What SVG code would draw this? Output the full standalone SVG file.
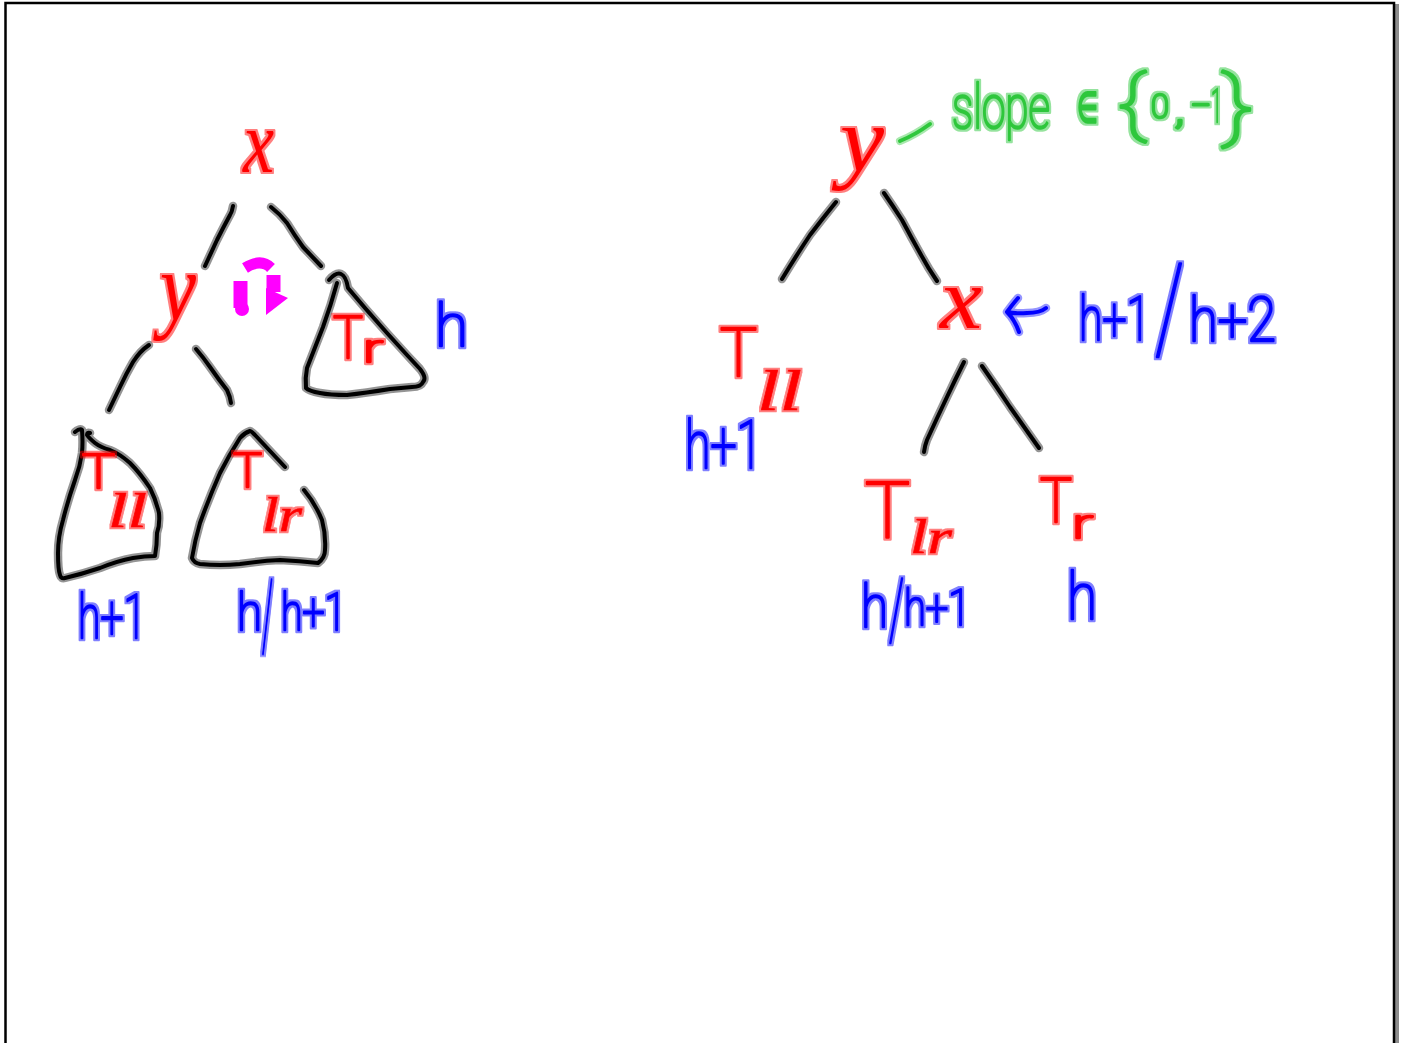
<svg xmlns="http://www.w3.org/2000/svg" width="1403" height="1043" viewBox="0 0 1403 1043">
<style>
.ink{fill:none;stroke-linecap:round;stroke-linejoin:round}
.pen{stroke:#000;stroke-width:4}
.halo{stroke:#000;stroke-opacity:.42;stroke-width:8.5}
text{font-family:Roboto,"Liberation Sans",sans-serif;font-weight:100;paint-order:stroke;stroke-linejoin:round;stroke-linecap:round;stroke-width:2.6}
.var{font-family:"Liberation Serif","Times New Roman",serif;font-style:italic;font-weight:400;stroke-width:0}
.i{font-family:"Liberation Serif","Times New Roman",serif;font-style:italic;font-weight:400;stroke-width:.5}
.red{fill:#f00;stroke:#f00;filter:url(#glow)}
.blue{fill:#00f;stroke:#00f;filter:url(#glow)}
.green{fill:#2fc73c;stroke:#2fc73c;filter:url(#glow)}
.blueline{stroke:#00f;stroke-width:4}
.bluehalo{stroke:#00f;stroke-opacity:.42;stroke-width:8.5}
.greenline{stroke:#2fc73c;stroke-width:4}
.greenhalo{stroke:#2fc73c;stroke-opacity:.42;stroke-width:8}
.rot{fill:none;stroke:#f0f}
</style>
<defs>
<filter id="glow" x="-30%" y="-30%" width="160%" height="160%">
<feMorphology in="SourceGraphic" operator="dilate" radius="1.6" result="d"/>
<feGaussianBlur in="d" stdDeviation=".6" result="b"/>
<feComponentTransfer in="b" result="h"><feFuncA type="linear" slope=".5"/></feComponentTransfer>
<feMerge><feMergeNode in="h"/><feMergeNode in="SourceGraphic"/></feMerge>
</filter>
<path id="e1" d="M233 206Q232 212 230 215Q223 228 217 240L205 266"/>
<path id="e2" d="M271 207Q280 214 287 223Q295 236 303 247L321 266"/>
<path id="e3" d="M149 345Q140 351 133 362Q126 374 120 387L109 410"/>
<path id="e4" d="M196 349Q203 357 210 367Q219 380 227 390Q230 396 231 403"/>
<path id="e5" d="M836 202Q823 218 810 235Q796 256 782 279"/>
<path id="e6" d="M884 193Q893 206 902 220Q911 237 920 253Q928 268 937 281"/>
<path id="e7" d="M964 362Q955 380 947 397Q937 418 927 440Q925 445 924 452"/>
<path id="e8" d="M982 366Q996 386 1010 407L1039 448"/>
<path id="tr" d="M329 280Q336 272 341 274T348 288L365 308L387 333L407 355L420 369Q427 378 423 382Q421 387 412 387L390 389Q365 393 347 395Q330 395 320 393Q309 391 306 388Q305 378 307 368L323 327Q331 305 337 283"/>
<path id="tll" d="M75 432Q80 428 82 430Q83 442 82 453Q80 467 75 480Q68 500 63 520Q58 537 58 553Q58 570 60 575Q61 579 65 578Q82 574 100 568Q117 561 133 558Q145 556 155 556Q157 545 157 533Q160 525 159 513Q156 500 150 488Q140 473 130 463Q120 454 110 450Q100 447 95 443Q89 438 87 435Q87 432 90 433"/>
<path id="tlr" d="M285 467Q270 451 255 435Q251 431 250 431Q244 433 240 438Q229 455 220 473Q209 498 200 523Q195 540 192 558Q194 563 200 564Q220 566 240 564Q260 561 280 560Q300 561 318 563Q325 558 325 550Q326 535 322 520Q315 503 304 490"/>
<path id="ar" d="M1046 308Q1040 313 1027 313Q1016 314 1007 312M1018 298Q1012 305 1007 312Q1015 320 1019 332"/>
<path id="gd" d="M900 141Q915 135 930 124"/>
</defs>
<g id="frame">
<rect x="1395" y="4" width="4" height="1039" fill="#8c8c8c"/>
<path d="M5.5 1043V3H1394V1043" fill="none" stroke="#000" stroke-width="2.5"/>
</g>
<g id="connectors" class="ink">
<g class="halo"><use href="#e1"/><use href="#e2"/><use href="#e3"/><use href="#e4"/><use href="#e5"/><use href="#e6"/><use href="#e7"/><use href="#e8"/></g>
<g class="pen"><use href="#e1"/><use href="#e2"/><use href="#e3"/><use href="#e4"/><use href="#e5"/><use href="#e6"/><use href="#e7"/><use href="#e8"/></g>
<g class="bluehalo"><use href="#ar"/></g><g class="blueline"><use href="#ar"/></g>
<g class="greenhalo"><use href="#gd"/></g><g class="greenline"><use href="#gd"/></g>
</g>
<g id="rotation">
<path class="rot" stroke-width="14" d="M240.500 281V308"/>
<circle cx="242" cy="309" r="7" fill="#f0f"/>
<path class="rot" stroke-width="11" d="M245 268Q261 258 271 268"/>
<path class="rot" stroke-width="14" d="M273.500 275V292"/>
<polygon points="266,288 288,298 266,315" fill="#f0f"/>
</g>
<g id="left-x"><text class="var red" x="243" y="172" font-size="88" textLength="31" lengthAdjust="spacingAndGlyphs">x</text></g>
<g id="left-y"><text class="var red" x="160" y="320" font-size="98" textLength="36" lengthAdjust="spacingAndGlyphs">y</text></g>
<g id="left-Tr">
<g class="ink"><use href="#tr" class="halo"/><use href="#tr" class="pen"/></g>
<text class="red" font-size="60"><tspan x="333" y="358" textLength="30" lengthAdjust="spacingAndGlyphs">T</tspan><tspan x="363" y="362" font-size="38" textLength="20" lengthAdjust="spacingAndGlyphs">r</tspan></text>
<text class="blue" x="435" y="346" font-size="60" textLength="33" lengthAdjust="spacingAndGlyphs">h</text>
</g>
<g id="left-Tll">
<g class="ink"><use href="#tll" class="halo"/><use href="#tll" class="pen"/></g>
<text class="red" font-size="48"><tspan x="82" y="488" textLength="33" lengthAdjust="spacingAndGlyphs">T</tspan><tspan class="i" x="108" y="527" textLength="39" lengthAdjust="spacingAndGlyphs">ll</tspan></text>
<text class="blue" x="78" y="638" font-size="62" textLength="68" lengthAdjust="spacingAndGlyphs">h+1</text>
</g>
<g id="left-Tlr">
<g class="ink"><use href="#tlr" class="halo"/><use href="#tlr" class="pen"/></g>
<text class="red" font-size="48"><tspan x="233" y="487" textLength="29" lengthAdjust="spacingAndGlyphs">T</tspan><tspan class="i" x="262" y="531" textLength="40" lengthAdjust="spacingAndGlyphs">lr</tspan></text>
<text class="blue" font-size="52"><tspan x="237" y="630" textLength="25" lengthAdjust="spacingAndGlyphs">h</tspan><tspan x="262" y="648" font-size="96" textLength="11" lengthAdjust="spacingAndGlyphs">/</tspan><tspan x="281" y="630" textLength="65" lengthAdjust="spacingAndGlyphs">h+1</tspan></text>
</g>
<g id="right-y"><text class="var red" x="840" y="171" font-size="94" textLength="44" lengthAdjust="spacingAndGlyphs">y</text></g>
<g id="slope-label"><text class="green" font-size="62"><tspan x="952" y="128" textLength="98" lengthAdjust="spacingAndGlyphs">slope</tspan> <tspan x="1077" y="122" font-size="42" textLength="21" lengthAdjust="spacingAndGlyphs">∈</tspan> <tspan x="1118" y="127" font-size="72" textLength="28" lengthAdjust="spacingAndGlyphs">{</tspan><tspan x="1151" y="118" font-size="34" textLength="18" lengthAdjust="spacingAndGlyphs">0</tspan><tspan x="1174" y="123" font-size="40" textLength="11" lengthAdjust="spacingAndGlyphs">,</tspan><tspan x="1192" y="118" font-size="40" textLength="18" lengthAdjust="spacingAndGlyphs">-</tspan><tspan x="1211" y="122" font-size="46" textLength="11" lengthAdjust="spacingAndGlyphs">1</tspan><tspan x="1222" y="131" font-size="78" textLength="31" lengthAdjust="spacingAndGlyphs">}</tspan></text></g>
<g id="right-x"><text class="var red" x="940" y="328" font-size="86" textLength="42" lengthAdjust="spacingAndGlyphs">x</text></g>
<g id="height-label"><text class="blue" font-size="62"><tspan x="1079" y="340" textLength="71" lengthAdjust="spacingAndGlyphs">h+1</tspan><tspan x="1155" y="350" font-size="120" textLength="29" lengthAdjust="spacingAndGlyphs">/</tspan><tspan x="1189" y="341" textLength="87" lengthAdjust="spacingAndGlyphs">h+2</tspan></text></g>
<g id="right-Tll">
<text class="red" font-size="66"><tspan x="720" y="376" textLength="37" lengthAdjust="spacingAndGlyphs">T</tspan><tspan class="i" x="757" y="410" font-size="56" textLength="45" lengthAdjust="spacingAndGlyphs">ll</tspan></text>
<text class="blue" x="685" y="468" font-size="66" textLength="77" lengthAdjust="spacingAndGlyphs">h+1</text>
</g>
<g id="right-Tlr">
<text class="red" font-size="78"><tspan x="865" y="537" textLength="45" lengthAdjust="spacingAndGlyphs">T</tspan><tspan class="i" x="910" y="553" font-size="48" textLength="42" lengthAdjust="spacingAndGlyphs">lr</tspan></text>
<text class="blue" font-size="60"><tspan x="861" y="627" textLength="27" lengthAdjust="spacingAndGlyphs">h</tspan><tspan x="889" y="638" font-size="84" textLength="15" lengthAdjust="spacingAndGlyphs">/</tspan><tspan x="904" y="625" font-size="50" textLength="66" lengthAdjust="spacingAndGlyphs">h+1</tspan></text>
</g>
<g id="right-Tr">
<text class="red" font-size="62"><tspan x="1040" y="522" textLength="32" lengthAdjust="spacingAndGlyphs">T</tspan><tspan x="1072" y="538" font-size="40" textLength="21" lengthAdjust="spacingAndGlyphs">r</tspan></text>
<text class="blue" x="1067" y="619" font-size="64" textLength="30" lengthAdjust="spacingAndGlyphs">h</text>
</g>
</svg>
